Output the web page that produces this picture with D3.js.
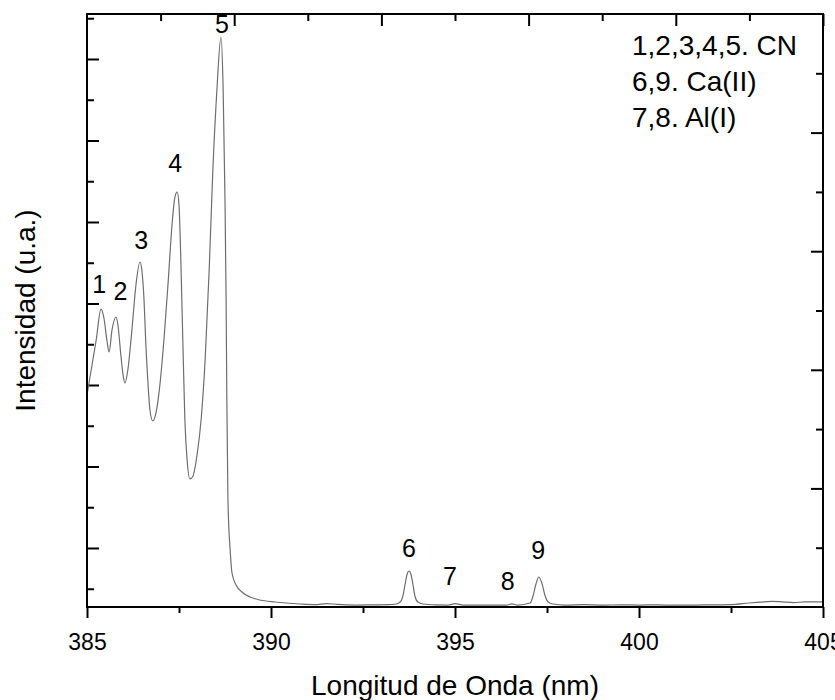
<!DOCTYPE html>
<html>
<head>
<meta charset="utf-8">
<script src="https://cdn.jsdelivr.net/npm/d3@7"></script>
<style>
  body { margin: 0; background: #fff; }
  text { font-family: "Liberation Sans", Arial, sans-serif; fill: #000; }
</style>
</head>
<body>
<svg width="835" height="700"></svg>
<script>
// spectrum (nm, arbitrary units)
let wavelength = [
  385.00, 385.25, 385.38, 385.46, 385.54, 385.60, 385.68, 385.79, 385.84, 385.92,
  385.98, 386.03, 386.11, 386.22, 386.33, 386.44, 386.49, 386.55, 386.60, 386.66,
  386.71, 386.79, 386.88, 386.98, 387.09, 387.20, 387.31, 387.39, 387.45, 387.50,
  387.55, 387.61, 387.66, 387.72, 387.80, 387.88, 387.99, 388.10, 388.21, 388.32,
  388.42, 388.53, 388.64, 388.70, 388.75, 388.78, 388.80, 388.83, 388.89, 388.94,
  389.05, 389.21, 389.43, 389.70, 390.11, 390.79, 391.20, 391.50, 391.80, 392.30,
  392.80, 393.20, 393.40, 393.51, 393.59, 393.64, 393.70, 393.75, 393.80, 393.86,
  393.91, 393.99, 394.13, 394.50, 394.81, 395.00, 395.22, 395.60, 396.00, 396.40,
  396.55, 396.70, 397.04, 397.12, 397.20, 397.28, 397.36, 397.45, 397.53, 397.66,
  398.00, 398.50, 399.00, 399.50, 400.00, 400.50, 401.00, 401.50, 402.00, 402.50,
  403.00, 403.30, 403.60, 403.90, 404.20, 404.50, 405.00
];
let intensity = [
  2877, 3552, 3932, 3822, 3552, 3405, 3675, 3834, 3736, 3368,
  3123, 3024, 3184, 3675, 4227, 4509, 4411, 4043, 3491, 2999,
  2693, 2558, 2669, 2999, 3552, 4227, 4963, 5307, 5368, 5209,
  4534, 3429, 2570, 2080, 1847, 1883, 2141, 2570, 3307, 4411,
  5638, 6620, 7270, 6620, 5270, 4043, 2816, 1589, 975, 693,
  546, 460, 399, 362, 337, 313, 305, 318, 308, 300,
  302, 305, 313, 337, 423, 546, 681, 718, 681, 546,
  411, 337, 313, 302, 300, 318, 300, 298, 300, 300,
  314, 300, 325, 411, 558, 644, 570, 411, 337, 313,
  300, 305, 298, 303, 300, 302, 298, 300, 302, 305,
  325, 335, 345, 340, 330, 338, 340
];

// peak numbers and where they sit
let peakNames = ["1", "2", "3", "4", "5", "6", "7", "8", "9"];
let peakNm = [385.33, 385.91, 386.47, 387.40, 388.67, 393.75, 394.86, 396.43, 397.26];
let peakInt = [4129, 4043, 4669, 5613, 7319, 890, 546, 484, 865];

let legendLines = ["1,2,3,4,5. CN", "6,9. Ca(II)", "7,8. Al(I)"];

let xTicks = [385, 390, 395, 400, 405];
let xMinor = [387.5, 392.5, 397.5, 402.5];
let topTicks = [389, 393, 397, 401, 405];
let topMinor = [387, 391, 395, 399, 403];
let yTicks = [1000, 2000, 3000, 4000, 5000, 6000, 7000];
let yMinor = [500, 1500, 2500, 3500, 4500, 5500, 6500, 7500];
let rightTicks = [2, 4, 6, 8];
let rightMinor = [1, 3, 5, 7, 9];

let mLeft = 87, mRight = 823, mTop = 14, mBottom = 607;

let svg = d3.select('svg');

let x = d3.scaleLinear().domain([385, 405]).range([mLeft, mRight]);
let y = d3.scaleLinear().domain([276, 7552]).range([mBottom, mTop]);
let yRight = d3.scaleLinear().domain([0, 10]).range([mBottom, mTop]);

function styleAxis(g){
  g.select('.domain').remove();
  g.selectAll('line').attr('stroke', '#000').attr('stroke-width', 2);
}

// bottom axis, ticks outward
svg.append('g')
  .attr('transform', `translate(0,${mBottom})`)
  .call(d3.axisBottom(x).tickValues(xTicks).tickSize(11).tickPadding(16).tickFormat(d3.format('d')))
  .call(styleAxis)
  .selectAll('text')
  .attr('font-size', 23)
  .attr('font-family', '"Liberation Sans", Arial, sans-serif');

svg.append('g')
  .attr('transform', `translate(0,${mBottom})`)
  .call(d3.axisBottom(x).tickValues(xMinor).tickSize(6).tickFormat(''))
  .call(styleAxis);

// top axis, ticks inward
svg.append('g')
  .attr('transform', `translate(0,${mTop})`)
  .call(d3.axisBottom(x).tickValues(topTicks).tickSize(12).tickFormat(''))
  .call(styleAxis);
svg.append('g')
  .attr('transform', `translate(0,${mTop})`)
  .call(d3.axisBottom(x).tickValues(topMinor).tickSize(7).tickFormat(''))
  .call(styleAxis);

// left axis, ticks inward, no labels
svg.append('g')
  .attr('transform', `translate(${mLeft},0)`)
  .call(d3.axisRight(y).tickValues(yTicks).tickSize(12).tickFormat(''))
  .call(styleAxis);
svg.append('g')
  .attr('transform', `translate(${mLeft},0)`)
  .call(d3.axisRight(y).tickValues(yMinor).tickSize(7).tickFormat(''))
  .call(styleAxis);

// right axis has its own spacing
svg.append('g')
  .attr('transform', `translate(${mRight},0)`)
  .call(d3.axisLeft(yRight).tickValues(rightTicks).tickSize(12).tickFormat(''))
  .call(styleAxis);
svg.append('g')
  .attr('transform', `translate(${mRight},0)`)
  .call(d3.axisLeft(yRight).tickValues(rightMinor).tickSize(7).tickFormat(''))
  .call(styleAxis);

// spectrum
let pts = wavelength.map((w, i) => [w, intensity[i]]);
let line = d3.line()
  .x(d => x(d[0]))
  .y(d => y(d[1]))
  .curve(d3.curveMonotoneX);

svg.append('path')
  .datum(pts)
  .attr('d', line)
  .attr('fill', 'none')
  .attr('stroke', '#6e6e6e')
  .attr('stroke-width', 1.2);

// frame
svg.append('rect')
  .attr('x', mLeft)
  .attr('y', mTop)
  .attr('width', mRight - mLeft)
  .attr('height', mBottom - mTop)
  .attr('fill', 'none')
  .attr('stroke', '#000')
  .attr('stroke-width', 2);

// peak numbers
svg.selectAll('.peak')
  .data(peakNames)
  .join('text')
  .attr('class', 'peak')
  .attr('x', (d, i) => x(peakNm[i]))
  .attr('y', (d, i) => y(peakInt[i]))
  .attr('text-anchor', 'middle')
  .attr('font-size', 25)
  .text(d => d);

// legend text
svg.selectAll('.legend')
  .data(legendLines)
  .join('text')
  .attr('class', 'legend')
  .attr('x', 632)
  .attr('y', (d, i) => 55 + i * 36)
  .attr('font-size', 28)
  .text(d => d);

// axis titles
svg.append('text')
  .attr('x', (mLeft + mRight) / 2)
  .attr('y', 695)
  .attr('text-anchor', 'middle')
  .attr('font-size', 28)
  .text('Longitud de Onda (nm)');

svg.append('text')
  .attr('transform', `translate(35,${(mTop + mBottom) / 2}) rotate(-90)`)
  .attr('text-anchor', 'middle')
  .attr('font-size', 28)
  .text('Intensidad (u.a.)');
</script>
</body>
</html>
